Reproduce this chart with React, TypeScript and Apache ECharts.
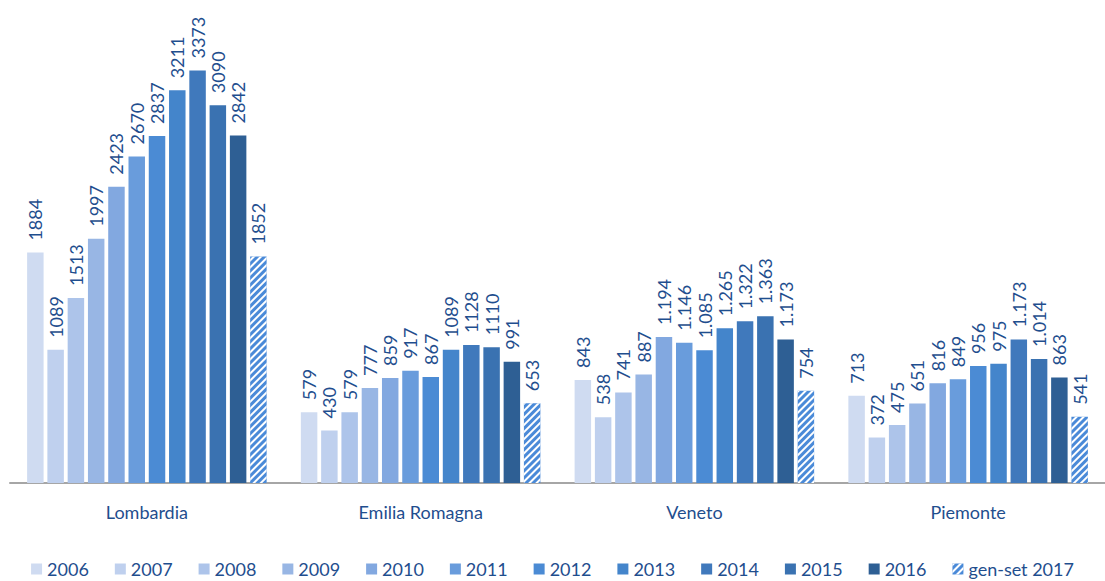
import React, { useEffect, useRef } from "react";
import * as echarts from "echarts";

const categories = ["Lombardia", "Emilia Romagna", "Veneto", "Piemonte"];
const dotSeparated = [false, false, true, true];
const seriesNames = ["2006", "2007", "2008", "2009", "2010", "2011", "2012", "2013", "2014", "2015", "2016", "gen-set 2017"];

const v2006 = [1884, 579, 843, 713];
const v2007 = [1089, 430, 538, 372];
const v2008 = [1513, 579, 741, 475];
const v2009 = [1997, 777, 887, 651];
const v2010 = [2423, 859, 1194, 816];
const v2011 = [2670, 917, 1146, 849];
const v2012 = [2837, 867, 1085, 956];
const v2013 = [3211, 1089, 1265, 975];
const v2014 = [3373, 1128, 1322, 1173];
const v2015 = [3090, 1110, 1363, 1014];
const v2016 = [2842, 991, 1173, 863];
const v2017 = [1852, 653, 754, 541];

const seriesValues = [v2006, v2007, v2008, v2009, v2010, v2011, v2012, v2013, v2014, v2015, v2016, v2017];

const colors = ["#cfdbf1", "#bfd0ee", "#adc4ea", "#98b6e4", "#82a8e0", "#699cdc", "#4b8bd4", "#4485cb", "#4079bc", "#3a72b1", "#2e5f94", "#4a8ad8"];

const TEXT = "#1f4e8e";
const FONT = "Lato";

function fmt(v: number, idx: number): string {
  if (dotSeparated[idx] && v >= 1000) {
    const s = String(v);
    return s.slice(0, s.length - 3) + "." + s.slice(s.length - 3);
  }
  return String(v);
}

export default function App() {
  const ref = useRef<HTMLDivElement>(null);
  useEffect(() => {
    if (!ref.current) return;
    const chart = echarts.init(ref.current, undefined, { renderer: "svg" });
    const series = seriesNames.map((name, i) => {
      const last = i === seriesNames.length - 1;
      return {
        name,
        type: "bar",
        data: seriesValues[i],
        barGap: "23%",
        barCategoryGap: "12.5%",
        itemStyle: last
          ? {
              color: colors[i],
              decal: {
                symbol: "rect",
                symbolSize: 1,
                color: "#ffffff",
                dashArrayX: [1, 0],
                dashArrayY: [2, 3],
                rotation: -Math.PI / 4,
              },
            }
          : { color: colors[i] },
        label: {
          show: true,
          position: "top",
          rotate: 90,
          align: "left",
          verticalAlign: "middle",
          distance: 12,
          color: TEXT,
          fontFamily: FONT,
          fontSize: 18,
          formatter: (p: any) => fmt(p.value, p.dataIndex),
        },
      };
    });
    chart.setOption({
      animation: false,
      grid: { left: 10, right: -11, top: 55, bottom: 98, containLabel: false },
      legend: {
        top: 559,
        left: "center",
        icon: "rect",
        itemWidth: 11,
        itemHeight: 11,
        itemGap: 26,
        padding: 0,
        textStyle: { color: TEXT, fontFamily: FONT, fontSize: 18, lineHeight: 20 },
        data: seriesNames,
      },
      xAxis: {
        type: "category",
        data: categories,
        axisLine: { lineStyle: { color: "#a6a6a6", width: 2 } },
        axisTick: { show: false },
        axisLabel: { color: TEXT, fontFamily: FONT, fontSize: 18, margin: 20 },
      },
      yAxis: {
        type: "value",
        min: 0,
        max: 3500,
        show: false,
        splitLine: { show: false },
      },
      series,
    });
    return () => chart.dispose();
  }, []);
  return (
    <div
      ref={ref}
      style={{ position: "fixed", left: 0, top: 0, width: 1105, height: 581, background: "#ffffff" }}
    />
  );
}
